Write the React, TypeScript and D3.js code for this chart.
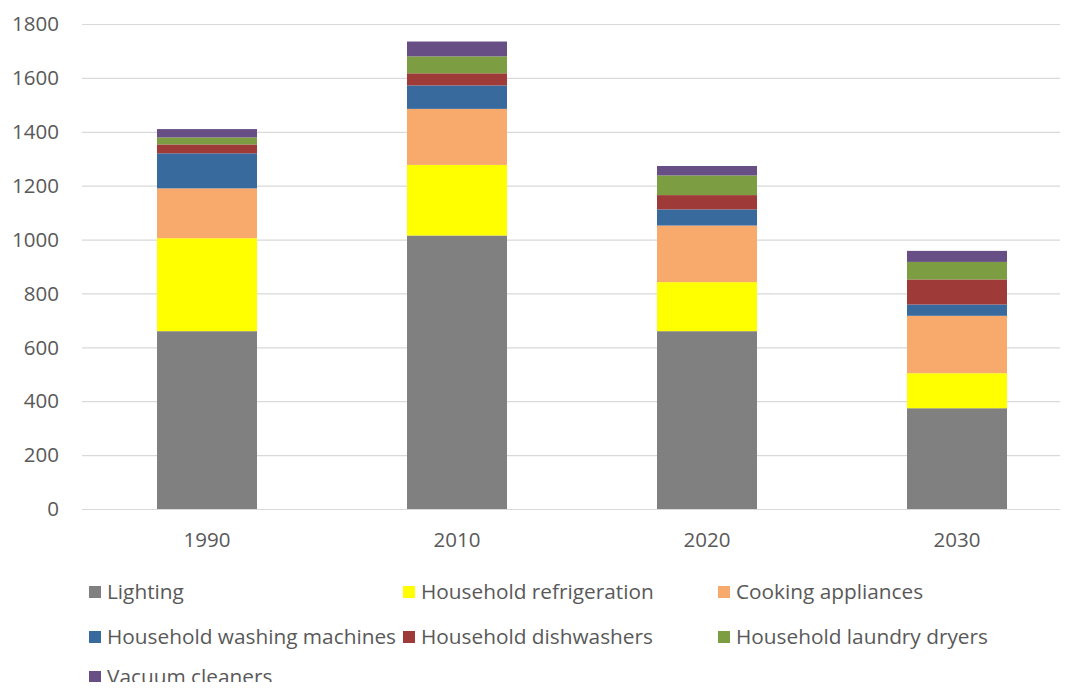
import React from "react";
import * as d3 from "d3";

const years = ["1990", "2010", "2020", "2030"];
const seriesNames = [
  "Lighting",
  "Household refrigeration",
  "Cooking appliances",
  "Household washing machines",
  "Household dishwashers",
  "Household laundry dryers",
  "Vacuum cleaners",
];
const lighting = [660, 1015, 660, 374];
const refrigeration = [345, 262, 182, 130];
const cooking = [185, 208, 210, 213];
const washing = [130, 87, 60, 42];
const dishwashers = [33, 45, 53, 93];
const dryers = [26, 63, 73, 65];
const vacuum = [31, 55, 35, 41];
const colors = ["#808080", "#FFFF00", "#F8A96C", "#386A9E", "#9E3A38", "#7D9D43", "#674F86"];
const yTicks = [0, 200, 400, 600, 800, 1000, 1200, 1400, 1600, 1800];

const W = 1068, H = 690;
const FONT = "'Open Sans', sans-serif";

export default function App() {
  const series = [lighting, refrigeration, cooking, washing, dishwashers, dryers, vacuum];
  const rows = years.map((y, i) => {
    const r: any = { year: y };
    seriesNames.forEach((n, k) => (r[n] = series[k][i]));
    return r;
  });
  const stacked = d3.stack<any>().keys(seriesNames)(rows);

  const x = d3.scaleBand().domain(years).range([82, 1082]).paddingInner(0.6).paddingOuter(0.3);
  const y = d3.scaleLinear().domain([0, 1800]).range([509, 24]);

  const legendCols = [89, 403, 718];
  const legendRows = [592, 637, 677];

  return (
    <div style={{ margin: -8 }}>
      <svg width={W} height={H} style={{ display: "block", background: "#fff" }}>
        {yTicks.map((t) => (
          <g key={t}>
            <line x1={82} x2={W} y1={y(t) + 0.5} y2={y(t) + 0.5} stroke="#d9d9d9" strokeWidth={1.2} />
            <text x={59} y={y(t)} dy="0.35em" textAnchor="end" fontFamily={FONT} fontSize={20.5} fill="#595959">
              {t}
            </text>
          </g>
        ))}
        {stacked.map((s, k) => (
          <g key={s.key} fill={colors[k]}>
            {s.map((d, i) => (
              <rect
                key={i}
                x={x(years[i])}
                y={y(d[1])}
                width={x.bandwidth()}
                height={y(d[0]) - y(d[1])}
              />
            ))}
          </g>
        ))}
        {years.map((yr) => (
          <text
            key={yr}
            x={(x(yr) as number) + x.bandwidth() / 2}
            y={540}
            dy="0.35em"
            textAnchor="middle"
            fontFamily={FONT}
            fontSize={20.5}
            fill="#595959"
          >
            {yr}
          </text>
        ))}
        {seriesNames.map((n, k) => {
          const cx = legendCols[k % 3];
          const cy = legendRows[Math.floor(k / 3)];
          return (
            <g key={n}>
              <rect x={cx} y={cy - 6} width={12} height={12} fill={colors[k]} />
              <text x={cx + 18} y={cy} dy="0.35em" fontFamily={FONT} fontSize={20.8} fill="#595959">
                {n}
              </text>
            </g>
          );
        })}
      </svg>
    </div>
  );
}
